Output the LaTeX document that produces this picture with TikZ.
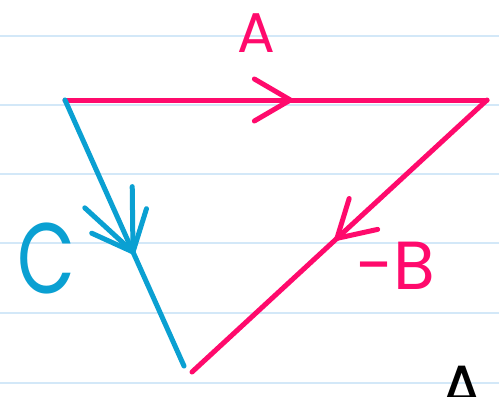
\documentclass[tikz,border=0pt]{standalone}
\usepackage{fontspec}
\setmainfont{Poppins}
\usepackage{xcolor}
\usetikzlibrary{arrows.meta,decorations.markings}

\definecolor{inkpink}{HTML}{FF0A6C}
\definecolor{inkblue}{HTML}{0AA0D2}
\definecolor{ruleblue}{HTML}{D3E8F8}

\begin{document}
\begin{tikzpicture}[x=1pt, y=-1pt,
      pen/.style={line width=5pt, line cap=round, line join=round},
      vec/.style={pen, postaction={decorate, decoration={markings,
          mark=at position #1 with {\arrow[line width=5pt]{Straight Barb[length=36pt, width=42pt, round]}}}}},
      blueVec/.style={pen, inkblue, postaction={decorate, decoration={markings,
          mark=at position 0.58 with {\arrow[line width=5pt]{Straight Barb[length=60pt, width=52pt, round]}},
          mark=at position 0.58 with {\arrow[line width=5pt]{Straight Barb[length=34pt, width=60pt, round]}}}}},
      label/.style={inner sep=0pt, font=\fontsize{#1}{#1}\selectfont}]

      % Paper
      \clip (0,0) rectangle (499,397);
      \fill[white] (0,0) rectangle (499,397);
      \foreach \y in {36,105,174,243,313,383}
        \draw[ruleblue, line width=2pt] (0,\y) -- (499,\y);

      % Nodes
      \coordinate (tl) at (65,100);
      \coordinate (tr) at (487,100);
      \coordinate (bc) at (184,366);
      \coordinate (bp) at (192,372);
      \node [label=56pt, text=inkpink] (labA) at (256,33) {A};
      \node [label=100pt, text=inkblue, xscale=0.75] (labC) at (46,258) {C};
      \node [label=68pt, text=inkpink] (labB) at (396,266) {-B};
      \node [label=64pt, anchor=north west, text=black] (labNext) at (440,366) {A};

      % Edges
      \draw [vec=0.54, inkpink] (tl) -- (tr);
      \draw [vec=0.515, inkpink] (tr) -- (bp);
      \draw [blueVec] (tl) -- (bc);

    \end{tikzpicture}
\end{document}
